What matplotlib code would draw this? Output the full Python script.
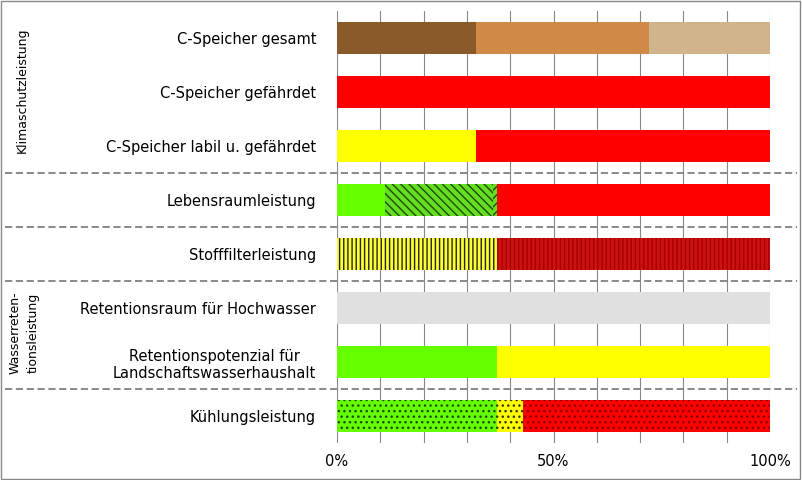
import matplotlib.pyplot as plt
import matplotlib.transforms as mtransforms
from matplotlib.lines import Line2D
from matplotlib.patches import Rectangle

labels = ["C-Speicher gesamt", "C-Speicher gefährdet", "C-Speicher labil u. gefährdet",
          "Lebensraumleistung", "Stofffilterleistung", "Retentionsraum für Hochwasser",
          "Retentionspotenzial für\nLandschaftswasserhaushalt", "Kühlungsleistung"]

# segments per row: (value in %, fill colour, hatch, hatch colour)
segments = [
    [(32, "#8B5A2B", None, None), (40, "#D08A45", None, None), (28, "#D2B48C", None, None)],
    [(100, "#FF0000", None, None)],
    [(32, "#FFFF00", None, None), (68, "#FF0000", None, None)],
    [(11, "#66FF00", None, None), (25, "#66DD22", "\\\\\\\\", "#1A4D00"), (1, "#66DD22", "////", "#1A4D00"),
     (63, "#FF0000", None, None)],
    [(37, "#FFFF33", "||||", "#222222"), (63, "#CC1111", "||||", "#AA0000")],
    [(100, "#E0E0E0", None, None)],
    [(37, "#66FF00", None, None), (63, "#FFFF00", None, None)],
    [(37, "#66FF00", "...", "#1A4D00"), (6, "#FFFF00", "...", "#333300"), (57, "#FF0000", "...", "#880000")],
]
separators = [2.5, 3.5, 4.5, 6.5]

fig = plt.figure(figsize=(8.02, 4.8), dpi=100)
ax = fig.add_axes([337 / 802, 37 / 480, 433 / 802, 432 / 480])

for i, row in enumerate(segments):
    left = 0
    for val, col, hatch, hcol in row:
        ax.barh(i, val, left=left, height=0.6, color=col, hatch=hatch,
                edgecolor=hcol if hcol else col, linewidth=0, zorder=3)
        left += val

ax.set_xlim(0, 100)
ax.set_ylim(7.5, -0.5)
ax.set_yticks(range(len(labels)))
ax.set_yticklabels(labels, fontsize=10.5, ha="right", multialignment="center")
ax.tick_params(axis="y", length=0, pad=15)
ax.set_xticks([0, 50, 100])
ax.set_xticklabels(["0%", "50%", "100%"], fontsize=10.5)
ax.tick_params(axis="x", length=0, pad=8)
ax.set_xticks(range(0, 101, 10), minor=True)
ax.tick_params(axis="x", which="minor", length=0)
ax.grid(axis="x", which="both", color="#888888", linewidth=0.8, zorder=0)
for s in ax.spines.values():
    s.set_visible(False)

trans = mtransforms.blended_transform_factory(fig.transFigure, ax.transData)
for y in separators:
    fig.add_artist(Line2D([0.006, 0.994], [y, y], transform=trans, color="#808080",
                          linestyle=(0, (4, 2)), linewidth=1.3))

fig.text(0.028, 1 - 90 / 480, "Klimaschutzleistung", rotation=90, ha="center", va="center", fontsize=9)
fig.text(0.03, 1 - 333 / 480, "Wasserreten-\ntionsleistung", rotation=90, ha="center", va="center",
         fontsize=9, linespacing=1.5)

fig.add_artist(Rectangle((0.001, 0.002), 0.997, 0.996, transform=fig.transFigure, fill=False,
                         edgecolor="#888888", linewidth=1))

fig.savefig("out.png", dpi=100)
